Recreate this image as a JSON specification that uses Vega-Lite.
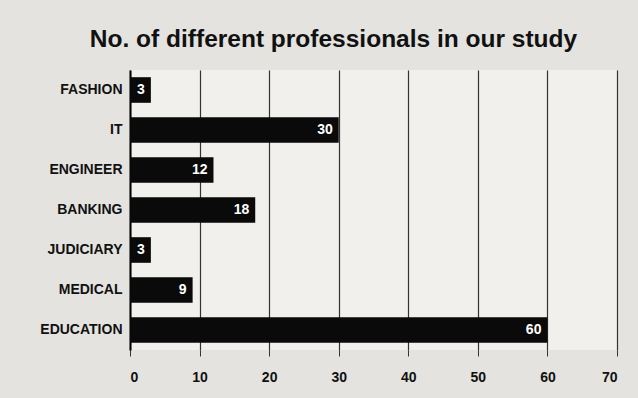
{
  "$schema": "https://vega.github.io/schema/vega-lite/v6.json",
  "width": 487,
  "height": 280,
  "autosize": "none",
  "padding": {"left": 130, "top": 70, "right": 21, "bottom": 48},
  "background": "#e4e3df",
  "config": {
    "view": {"fill": "#f1f0ec", "stroke": null},
    "font": "Liberation Sans"
  },
  "title": {
    "text": "No. of different professionals in our study",
    "fontSize": 24.5,
    "fontWeight": "bold",
    "color": "#111111",
    "anchor": "middle",
    "offset": 18,
    "dx": -40
  },
  "data": {
    "values": [
      {"profession": "FASHION", "count": 3},
      {"profession": "IT", "count": 30},
      {"profession": "ENGINEER", "count": 12},
      {"profession": "BANKING", "count": 18},
      {"profession": "JUDICIARY", "count": 3},
      {"profession": "MEDICAL", "count": 9},
      {"profession": "EDUCATION", "count": 60}
    ]
  },
  "encoding": {
    "y": {
      "field": "profession",
      "type": "nominal",
      "sort": null,
      "scale": {"paddingInner": 0.36, "paddingOuter": 0.18},
      "axis": {
        "title": null,
        "labelFontSize": 14,
        "labelFontWeight": "bold",
        "labelColor": "#111111",
        "labelPadding": 8,
        "ticks": false,
        "domainColor": "#000000",
        "domainWidth": 2
      }
    },
    "x": {
      "field": "count",
      "type": "quantitative",
      "scale": {"domain": [0, 70], "nice": false},
      "axis": {
        "title": null,
        "values": [0, 10, 20, 30, 40, 50, 60, 70],
        "labelFontSize": 14,
        "labelFontWeight": "bold",
        "labelColor": "#111111",
        "labelPadding": 14,
        "grid": true,
        "gridColor": "#333333",
        "gridWidth": 1.2,
        "domain": false,
        "tickColor": "#333333",
        "tickSize": 6
      }
    }
  },
  "layer": [
    {"mark": {"type": "bar", "color": "#0a0a0a"}},
    {
      "mark": {"type": "text", "align": "right", "dx": -6, "color": "#ffffff", "fontSize": 14, "fontWeight": "bold"},
      "encoding": {"text": {"field": "count", "type": "quantitative"}}
    }
  ]
}
